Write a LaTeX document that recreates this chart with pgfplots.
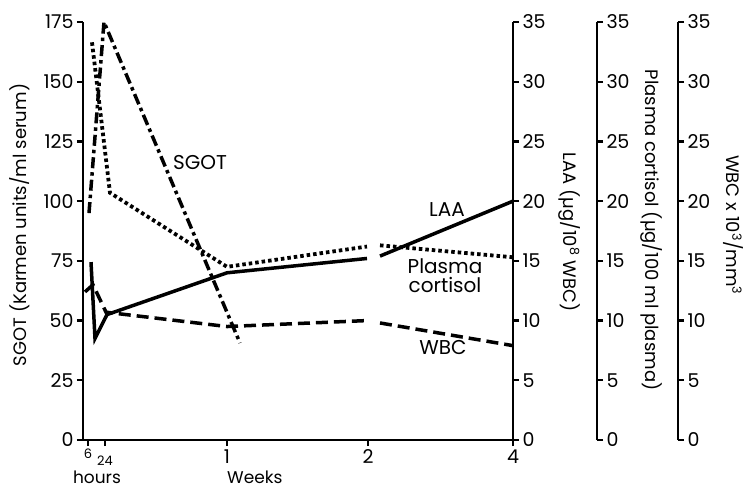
\documentclass[border=0pt]{standalone}
\usepackage{pgfplots}
\pgfplotsset{compat=1.18}
\usepackage{fontspec}
\setmainfont{Poppins}
\newcommand{\tickf}{\fontsize{19}{22}\selectfont}
\newcommand{\labf}{\fontsize{18}{21}\selectfont}
\newcommand{\botf}{\fontsize{17}{20}\selectfont}
\newcommand{\serf}{\fontsize{20}{23}\selectfont}
\newcommand{\smallf}{\fontsize{13}{15}\selectfont}
\pgfplotsset{
  base/.style={
    at={(0pt,0pt)}, anchor=south west,
    width=430pt, height=418pt, scale only axis,
    xmin=0, xmax=430,
    tick align=outside,
    major tick length=6pt,
    axis line style={line width=2.6pt,-},
    major tick style={line width=2.2pt,black},
    ticklabel style={font=\tickf},
    /pgf/number format/assume math mode=true,
    clip=false,
  },
  rightax/.style={
    base, ymin=0, ymax=35,
    axis y line*=right, axis x line=none,
    ytick={0,5,...,35},
  },
}
\begin{document}
\begin{tikzpicture}
\useasboundingbox (-83pt,-50pt) rectangle (664pt,440pt);
% Left axis: SGOT
\begin{axis}[base,
  ymin=0, ymax=175,
  axis x line*=bottom, axis y line*=left,
  ytick={0,25,...,175},
  xtick={5,22,144,285,430},
  xticklabels={,,1,2,4},
]
\addplot[line width=3.5pt, dash pattern=on 11pt off 4pt on 3.5pt off 4pt]
  coordinates {(6,95) (21,175) (157,40.6)};
\end{axis}
% LAA / cortisol / WBC (all 0--35)
\begin{axis}[rightax]
% LAA solid
\addplot[line width=3.5pt] coordinates {(8,14.9) (12,8.5) (24,10.5) (144,14.0) (284,15.2)};
\addplot[line width=3.5pt] coordinates {(297,15.4) (430,20.0)};
% Plasma cortisol dotted
\addplot[line width=3.8pt, dash pattern=on 3.5pt off 3pt] coordinates {(9,33.3) (27,20.7) (144,14.5) (284,16.2)};
\addplot[line width=3.8pt, dash pattern=on 3.5pt off 3pt] coordinates {(297,16.3) (430,15.3)};
% WBC dashed
\addplot[line width=3.5pt, dash pattern=on 12pt off 6pt] coordinates {(2,12.4) (10,13.0) (23,10.7) (144,9.5) (284,10.0)};
\addplot[line width=3.5pt, dash pattern=on 12pt off 6pt] coordinates {(297,9.8) (430,7.9)};
\end{axis}
\begin{axis}[rightax, at={(84pt,0pt)}]
\end{axis}
\begin{axis}[rightax, at={(165pt,0pt)}]
\end{axis}
% Axis titles
\node[rotate=90, font=\labf] at (-63pt,215pt) {SGOT (Karmen units/ml serum)};
\node[rotate=-90, font=\labf] at (487pt,208pt) {LAA (µg/10\textsuperscript{8} WBC)};
\node[rotate=-90, font=\labf] at (569pt,210pt) {Plasma cortisol (µg/100 ml plasma)};
\node[rotate=-90, font=\labf] at (650pt,215pt) {WBC x 10\textsuperscript{3}/mm\textsuperscript{3}};
% Series labels
\node[font=\serf] at (117pt,277pt) {SGOT};
\node[font=\serf] at (364pt,230pt) {LAA};
\node[font=\serf, align=center, inner sep=0pt] at (362pt,164pt) {Plasma\\[-4pt]cortisol};
\node[font=\serf] at (360pt,92pt) {WBC};
% x axis labels
\node[font=\smallf, inner sep=0pt] at (5pt,-14pt) {6};
\node[font=\smallf, inner sep=0pt] at (22pt,-21pt) {24};
\node[font=\botf, inner sep=0pt] at (14pt,-37pt) {hours};
\node[font=\botf, anchor=west, inner sep=0pt] at (144pt,-37pt) {Weeks};
\end{tikzpicture}
\end{document}
